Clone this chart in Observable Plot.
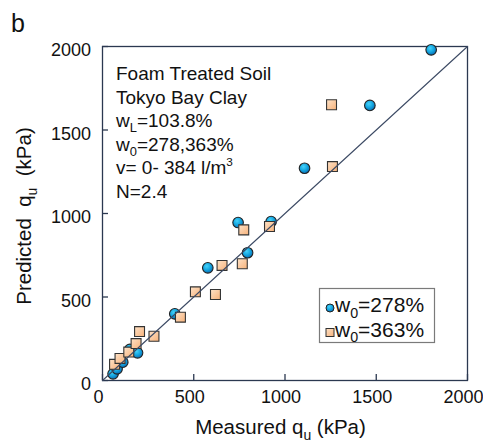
<!DOCTYPE html>
<html>
<head>
<meta charset="utf-8">
<script src="https://cdn.jsdelivr.net/npm/d3@7"></script>
<script src="https://cdn.jsdelivr.net/npm/@observablehq/plot@0.6"></script>
<style>
  html, body { margin: 0; padding: 0; background: white; }
  #chart { width: 483px; height: 443px; }
</style>
</head>
<body>
<div id="chart"></div>
<script>
// ---- data (kPa) ----
const w278Measured  = [58, 80, 111, 150, 192, 396, 577, 743, 795, 924, 1107, 1465, 1801];
const w278Predicted = [40, 70, 110, 186, 166, 399, 675, 946, 765, 952, 1271, 1647, 1980];
const w363Measured  = [66, 96, 144, 184, 203, 282, 427, 509, 619, 655, 766, 774, 915, 1255, 1260];
const w363Predicted = [97, 132, 170, 221, 293, 265, 379, 531, 515, 689, 699, 902, 922, 1651, 1281];
const lineOfEquality = [0, 2000];
const tickValues = [0, 500, 1000, 1500, 2000];
const seriesLabels = ["278%", "363%"];
const noteLines = [
  [["Foam Treated Soil"]],
  [["Tokyo Bay Clay"]],
  [["w"], ["L", "sub"], ["=103.8%"]],
  [["w"], ["0", "sub"], ["=278,363%"]],
  [["v= 0- 384 l/m"], ["3", "sup"]],
  [["N=2.4"]]
];

const circles = w278Measured.map((m, i) => ({m, p: w278Predicted[i]}));
const squares = w363Measured.map((m, i) => ({m, p: w363Predicted[i]}));
const diag = lineOfEquality.map(v => ({m: v, p: v}));

const FONT = "'Liberation Sans', Arial, Helvetica, sans-serif";
const ML = 102, MR = 16, MT = 46, MB = 63, W = 483, H = 443;
const AXIS = "#2b3850";

const plot = Plot.plot({
  width: W, height: H,
  marginLeft: ML, marginRight: MR, marginTop: MT, marginBottom: MB,
  style: {fontFamily: FONT, fontSize: "18px", color: "#111", background: "white", overflow: "visible"},
  x: {domain: [0, 2000]},
  y: {domain: [0, 2000]},
  marks: [
    Plot.frame({stroke: AXIS, strokeWidth: 1.3}),
    // tick labels
    Plot.axisX({ticks: tickValues, tickFormat: d => String(d), tickSize: 0, tickPadding: 10, dx: -4, label: null, fontSize: 18, fill: "#111"}),
    Plot.axisY({ticks: tickValues, tickFormat: d => String(d), tickSize: 0, tickPadding: 11.5, dy: 4, label: null, fontSize: 18, fill: "#111"}),
    // inward tick marks
    Plot.axisX({ticks: tickValues, tickFormat: () => "", tickSize: 6, dy: -6, label: null, stroke: AXIS, strokeWidth: 1.3}),
    Plot.axisY({ticks: tickValues, tickFormat: () => "", tickSize: 6, dx: 6, label: null, stroke: AXIS, strokeWidth: 1.3}),
    Plot.dot(circles, {x: "m", y: "p", r: 5.3, fill: "url(#gradBlue)", stroke: "#222", strokeWidth: 1.1}),
    Plot.dot(squares, {x: "m", y: "p", r: 5.6, symbol: "square", fill: "url(#gradOrange)", stroke: "#333", strokeWidth: 1.1}),
    Plot.line(diag, {x: "m", y: "p", stroke: "#3c4a64", strokeWidth: 1.1})
  ]
});
document.getElementById("chart").appendChild(plot);

const svg = d3.select(plot);
const defs = svg.insert("defs", ":first-child");
const gb = defs.append("radialGradient").attr("id", "gradBlue").attr("cx", "40%").attr("cy", "35%").attr("r", "65%");
gb.append("stop").attr("offset", "0%").attr("stop-color", "#45d2fa");
gb.append("stop").attr("offset", "55%").attr("stop-color", "#14a6e0");
gb.append("stop").attr("offset", "100%").attr("stop-color", "#0a6fb5");
const go = defs.append("linearGradient").attr("id", "gradOrange").attr("x1", "0").attr("y1", "0").attr("x2", "1").attr("y2", "1");
go.append("stop").attr("offset", "0%").attr("stop-color", "#fde2c8");
go.append("stop").attr("offset", "100%").attr("stop-color", "#f7b27a");

function richText(g, parts, size, anchor = "start") {
  const t = g.append("text").attr("font-family", FONT).attr("font-size", size).attr("fill", "#111").attr("text-anchor", anchor);
  let shift = 0;
  parts.forEach(([s, kind]) => {
    const ts = t.append("tspan").text(s);
    let target = 0;
    if (kind === "sub") { ts.attr("font-size", size * 0.68); target = size * 0.28; }
    else if (kind === "sup") { ts.attr("font-size", size * 0.62); target = -size * 0.4; }
    if (target - shift !== 0) ts.attr("dy", target - shift);
    shift = target;
  });
  return t;
}

// panel letter
svg.append("text").attr("x", 11).attr("y", 32).attr("text-anchor", "start").attr("font-family", FONT).attr("font-size", 25).attr("fill", "#111").text("b");

// annotation block
const note = svg.append("g");
noteLines.forEach((parts, i) => {
  richText(note, parts, 19).attr("x", 116).attr("y", 80 + i * 23.5);
});

// axis titles
const xt = richText(svg, [["Measured q"], ["u", "sub"], [" (kPa)"]], 20.5, "middle");
xt.attr("x", (ML + W - MR) / 2 - 4).attr("y", 434);
const yg = svg.append("g").attr("transform", `translate(31,${(MT + H - MB) / 2 + 3}) rotate(-90)`);
richText(yg, [["Predicted\u00a0\u00a0q"], ["u", "sub"], ["\u00a0\u00a0(kPa)"]], 20.5, "middle");

// legend
const lg = svg.append("g");
lg.append("rect").attr("x", 319.5).attr("y", 288.5).attr("width", 115).attr("height", 54)
  .attr("fill", "white").attr("stroke", "#7a7a7a").attr("stroke-width", 1.2);
lg.append("circle").attr("cx", 330).attr("cy", 308).attr("r", 4).attr("fill", "url(#gradBlue)").attr("stroke", "#222").attr("stroke-width", 1);
lg.append("rect").attr("x", 326).attr("y", 328.5).attr("width", 8).attr("height", 8).attr("fill", "url(#gradOrange)").attr("stroke", "#333").attr("stroke-width", 1);
seriesLabels.forEach((lab, i) => {
  richText(lg, [["w"], ["0", "sub"], ["=" + lab]], 21).attr("x", 335).attr("y", 312 + i * 24.5);
});
</script>
</body>
</html>
